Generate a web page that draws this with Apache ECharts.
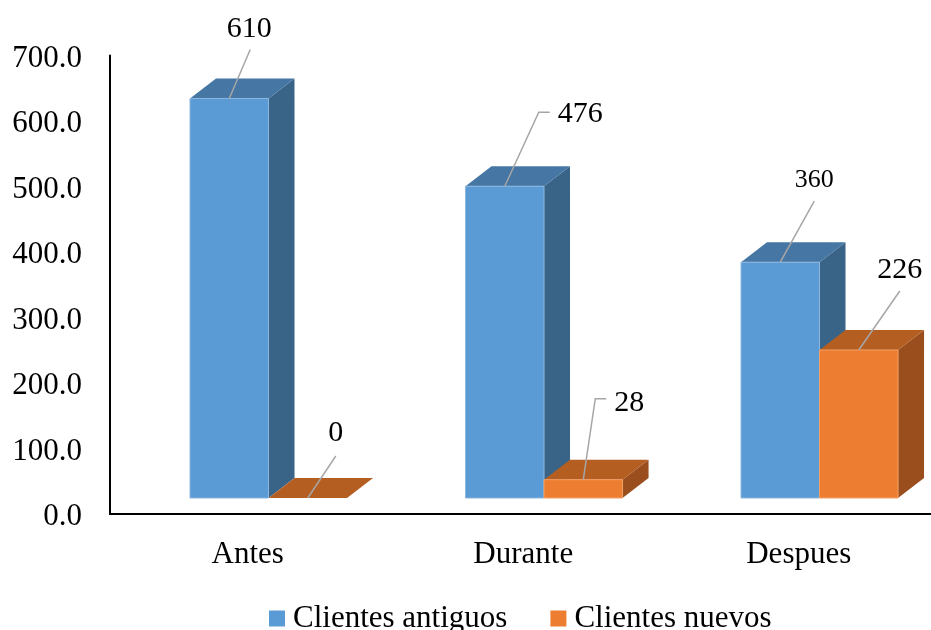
<!DOCTYPE html>
<html>
<head>
<meta charset="utf-8">
<title>Clientes antiguos y nuevos</title>
<script src="https://cdn.jsdelivr.net/npm/echarts@6/dist/echarts.min.js"></script>
<style>
  html, body { margin: 0; padding: 0; background: #ffffff; }
  #chart { width: 931px; height: 630px; }
</style>
</head>
<body>
<div id="chart"></div>
<script>
// Data
const categories = ['Antes', 'Durante', 'Despues'];
const seriesNames = ['Clientes antiguos', 'Clientes nuevos'];
const clientesAntiguos = [610, 476, 360];
const clientesNuevos = [0, 28, 226];
const yTicks = { min: 0, max: 700, step: 100 };

// Styling for the pseudo-3D boxes
const FONT = '"Liberation Serif", "Times New Roman", serif';
const palettes = [
  { front: '#5B9BD5', top: '#4676A3', side: '#3A6487', edge: '#8DB6DE' },
  { front: '#ED7D31', top: '#B55E22', side: '#9A4E1E', edge: '#F2A066' }
];
const DEPTH_X = 26, DEPTH_Y = -20, LIFT = 16;
const BAR_FRAC = 0.285;      // box width as a share of the category band
const GROUP_SHIFT = -0.2096; // left edge of first box relative to band centre

// Leader-line / label placement per series and category (pixels from front-top centre)
const labelPlacement = [
  [
    { pts: [[21, -49]], text: [20, -69], size: 30, align: 'center' },
    { pts: [[34, -74], [45, -74]], text: [53, -72], size: 30, align: 'left' },
    { pts: [[34, -61]], text: [34, -82], size: 26, align: 'center' }
  ],
  [
    { pts: [[28, -42]], text: [28, -65], size: 30, align: 'center' },
    { pts: [[12, -81], [23, -81]], text: [31, -77], size: 30, align: 'left' },
    { pts: [[41, -59]], text: [41, -80], size: 30, align: 'center' }
  ]
];

function makeRender(seriesIdx) {
  const pal = palettes[seriesIdx];
  return function (params, api) {
    const cat = api.value(0);
    const val = api.value(1);
    const band = api.size([1, 0])[0];
    const base = api.coord([cat, 0]);
    const top = api.coord([cat, val]);
    const w = band * BAR_FRAC;
    const x0 = base[0] + band * GROUP_SHIFT + seriesIdx * w;
    const x1 = x0 + w;
    const yb = base[1] - LIFT;
    const yt = top[1] - LIFT;
    const children = [];
    // side face
    children.push({
      type: 'polygon',
      shape: { points: [[x1, yb], [x1 + DEPTH_X, yb + DEPTH_Y], [x1 + DEPTH_X, yt + DEPTH_Y], [x1, yt]] },
      style: { fill: pal.side }
    });
    // top face
    children.push({
      type: 'polygon',
      shape: { points: [[x0, yt], [x1, yt], [x1 + DEPTH_X, yt + DEPTH_Y], [x0 + DEPTH_X, yt + DEPTH_Y]] },
      style: { fill: pal.top }
    });
    // front face
    if (yb - yt > 0.5) {
      children.push({
        type: 'rect',
        shape: { x: x0, y: yt, width: w, height: yb - yt },
        style: { fill: pal.front, stroke: pal.edge, lineWidth: 1 }
      });
    }
    // leader line and value label
    const lp = labelPlacement[seriesIdx][params.dataIndex];
    const cx = (x0 + x1) / 2;
    const pts = [[cx, yt]].concat(lp.pts.map(p => [cx + p[0], yt + p[1]]));
    children.push({
      type: 'polyline',
      shape: { points: pts },
      style: { stroke: '#A6A6A6', lineWidth: 1.5, fill: null }
    });
    children.push({
      type: 'text',
      x: cx + lp.text[0],
      y: yt + lp.text[1],
      style: {
        text: String(val),
        fill: '#000000',
        font: lp.size + 'px ' + FONT,
        align: lp.align,
        verticalAlign: 'middle'
      }
    });
    return { type: 'group', children: children };
  };
}

const chart = echarts.init(document.getElementById('chart'), null, { renderer: 'canvas' });

chart.setOption({
  backgroundColor: '#ffffff',
  animation: false,
  textStyle: { fontFamily: FONT },
  grid: {
    left: 110, width: 826.5, top: 55.5, bottom: 116,
    containLabel: false, outerBoundsMode: 'none'
  },
  legend: {
    data: seriesNames.map((n, i) => ({ name: n, itemStyle: { color: palettes[i].front } })),
    left: 269,
    top: 603,
    padding: 0,
    icon: 'rect',
    itemWidth: 16,
    itemHeight: 16,
    itemGap: 43,
    textStyle: { fontSize: 31, color: '#000000', fontFamily: FONT, padding: [0, 0, 0, 3] }
  },
  xAxis: {
    type: 'category',
    data: categories,
    axisLine: { show: true, lineStyle: { color: '#000000', width: 2 } },
    axisTick: { show: false },
    axisLabel: { color: '#000000', fontSize: 31, fontFamily: FONT, margin: 25 },
    splitLine: { show: false }
  },
  yAxis: {
    type: 'value',
    min: yTicks.min,
    max: yTicks.max,
    interval: yTicks.step,
    axisLine: { show: true, lineStyle: { color: '#000000', width: 2 } },
    axisTick: { show: false },
    splitLine: { show: false },
    axisLabel: {
      color: '#000000',
      margin: 28,
      formatter: v => '{t|' + v.toFixed(1) + '}',
      rich: {
        t: { fontSize: 31, fontFamily: FONT, color: '#000000', padding: [6, 0, 0, 0] }
      }
    }
  },
  series: [
    {
      name: seriesNames[0],
      type: 'custom',
      renderItem: makeRender(0),
      encode: { x: 0, y: 1 },
      data: categories.map((c, i) => [i, clientesAntiguos[i]]),
      clip: false,
      z: 2
    },
    {
      name: seriesNames[1],
      type: 'custom',
      renderItem: makeRender(1),
      encode: { x: 0, y: 1 },
      data: categories.map((c, i) => [i, clientesNuevos[i]]),
      clip: false,
      z: 3
    }
  ]
});
</script>
</body>
</html>
